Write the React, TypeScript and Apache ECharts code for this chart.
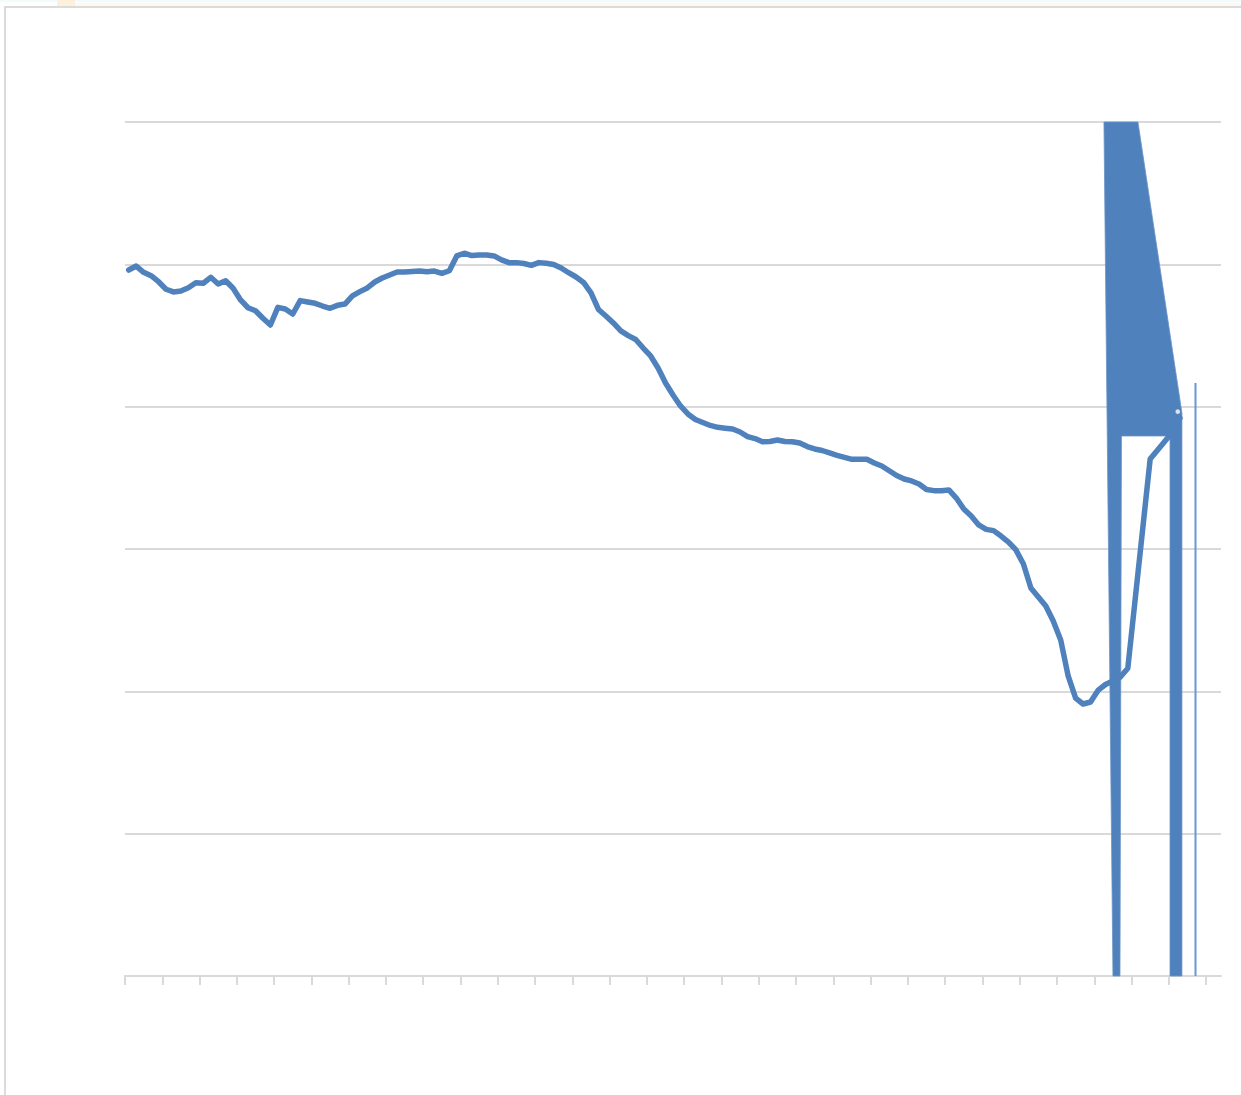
import React, { useEffect, useRef } from "react";
import * as echarts from "echarts";

// Category count on the x axis (one point per category, ticks every 5)
const categoryCount = 147;
const tickStep = 5;
const tickedCategories = 145;

// Main series values (index = category); null = no value
const lineValues: (number | null)[] = [
  4.96, 4.988, 4.944, 4.92, 4.878, 4.825, 4.806, 4.813, 4.836, 4.871,
  4.867, 4.909, 4.862, 4.885, 4.832, 4.75, 4.695, 4.674, 4.621, 4.574,
  4.698, 4.686, 4.651, 4.745, 4.735, 4.726, 4.707, 4.691, 4.712, 4.721,
  4.778, 4.808, 4.834, 4.876, 4.904, 4.925, 4.946, 4.946, 4.95, 4.953,
  4.948, 4.953, 4.937, 4.955, 5.059, 5.078, 5.062, 5.066, 5.066, 5.059,
  5.031, 5.012, 5.012, 5.006, 4.993, 5.012, 5.007, 4.999, 4.974, 4.941,
  4.911, 4.873, 4.799, 4.683, 4.637, 4.588, 4.532, 4.499, 4.472, 4.412,
  4.356, 4.272, 4.166, 4.082, 4.005, 3.949, 3.91, 3.889, 3.868, 3.855,
  3.849, 3.843, 3.822, 3.79, 3.776, 3.754, 3.755, 3.766, 3.755, 3.754,
  3.745, 3.72, 3.703, 3.692, 3.675, 3.658, 3.644, 3.63, 3.63, 3.63,
  3.604, 3.583, 3.55, 3.516, 3.492, 3.478, 3.457, 3.418, 3.41, 3.41,
  3.415, 3.358, 3.281, 3.232, 3.169, 3.138, 3.129, 3.091, 3.049, 2.993,
  2.895, 2.726, 2.663, 2.6, 2.494, 2.361, 2.108, 1.953, 1.911, 1.925,
  2.006, 2.048, 2.073, 2.101, 2.162, null, null, 3.632, 3.696, 3.759,
  3.822, 3.92,
];

// Filled artefact shape (vertices in axis units)
const shapeX = [131.3, 135.86, 141.76, 141.76, 140.16, 140.16, 133.65, 133.45, 132.51];
const shapeY = [6, 6, 3.956, 0, 0, 3.794, 3.794, 0, 0];

// Thin vertical spike (axis units)
const spikeX = [143.58, 143.58];
const spikeY = [4.166, 0];

// Small white marker near the end of the line
const markerX = [141.2];
const markerY = [3.965];

// Value axis
const yMin = 0;
const yMax = 6;
const yInterval = 1;

export default function App() {
  const ref = useRef<HTMLDivElement>(null);

  useEffect(() => {
    if (!ref.current) return;
    const chart = echarts.init(ref.current, undefined, { renderer: "svg" });

    const gridLeft = 125;
    const gridRight = 20;
    const plotWidth = 1241 - gridLeft - gridRight;
    const unit = plotWidth / categoryCount;
    const tickGridRight = 1241 - gridLeft - unit * tickedCategories;

    const lineData: [number, number][] = [];
    lineValues.forEach((v, i) => {
      if (v !== null) lineData.push([i + 0.5, v]);
    });

    const shapeData = shapeX.map((x, i) => [x, shapeY[i]]);

    const gray = "#d9d9d9";
    const blue = "#4f81bd";

    chart.setOption({
      animation: false,
      backgroundColor: "#ffffff",
      grid: [
        { left: gridLeft, right: gridRight, top: 122, bottom: 119 },
        { left: gridLeft, right: tickGridRight, top: 122, bottom: 119 },
      ],
      xAxis: [
        {
          type: "value",
          gridIndex: 0,
          min: 0,
          max: categoryCount,
          axisLine: { show: true, lineStyle: { color: gray, width: 2 } },
          axisTick: { show: false },
          axisLabel: { show: false },
          splitLine: { show: false },
        },
        {
          type: "value",
          gridIndex: 1,
          min: 0,
          max: tickedCategories,
          interval: tickStep,
          axisLine: { show: false },
          axisTick: { show: true, length: 9, lineStyle: { color: gray, width: 2 } },
          axisLabel: { show: false },
          splitLine: { show: false },
        },
      ],
      yAxis: [
        {
          type: "value",
          gridIndex: 0,
          min: yMin,
          max: yMax,
          interval: yInterval,
          axisLine: { show: false },
          axisTick: { show: false },
          axisLabel: { show: false },
          splitLine: { show: true, lineStyle: { color: gray, width: 2 } },
        },
        {
          type: "value",
          gridIndex: 1,
          min: 0,
          max: 1,
          show: false,
        },
      ],
      graphic: [
        { type: "rect", shape: { x: 0, y: 0, width: 1241, height: 2 }, style: { fill: "#f3fcfc" }, silent: true },
        { type: "rect", shape: { x: 57, y: 3, width: 1184, height: 3 }, style: { fill: "#fef8ee" }, silent: true },
        { type: "rect", shape: { x: 57, y: 0, width: 18, height: 6 }, style: { fill: "#fdf1dd" }, silent: true },
        {
          type: "rect",
          shape: { x: 5, y: 7, width: 1400, height: 1200 },
          style: { fill: "none", stroke: "#d0d0d0", lineWidth: 1.5 },
          silent: true,
        },
      ],
      series: [
        {
          type: "custom",
          xAxisIndex: 0,
          yAxisIndex: 0,
          z: 1,
          data: shapeData,
          renderItem: (params: any, api: any) => {
            if (params.dataIndex !== 0) return null;
            const pts = shapeX.map((x, i) => api.coord([x, shapeY[i]]));
            return {
              type: "polygon",
              shape: { points: pts },
              style: { fill: blue, stroke: "#6a94c8", lineWidth: 0.8 },
            };
          },
        },
        {
          type: "line",
          xAxisIndex: 0,
          yAxisIndex: 0,
          z: 2,
          data: spikeX.map((x, i) => [x, spikeY[i]]),
          symbol: "none",
          lineStyle: { color: "#6b97d0", width: 2 },
        },
        {
          type: "line",
          xAxisIndex: 0,
          yAxisIndex: 0,
          z: 3,
          data: lineData,
          symbol: "none",
          lineStyle: { color: blue, width: 5.5, cap: "round", join: "round" },
        },
        {
          type: "scatter",
          xAxisIndex: 0,
          yAxisIndex: 0,
          z: 4,
          data: markerX.map((x, i) => [x, markerY[i]]),
          symbol: "circle",
          symbolSize: 5,
          itemStyle: { color: "#ffffff", borderColor: blue, borderWidth: 0.5 },
        },
      ],
    });

    return () => chart.dispose();
  }, []);

  return (
    <div
      ref={ref}
      style={{ position: "absolute", left: 0, top: 0, width: 1241, height: 1095 }}
    />
  );
}
